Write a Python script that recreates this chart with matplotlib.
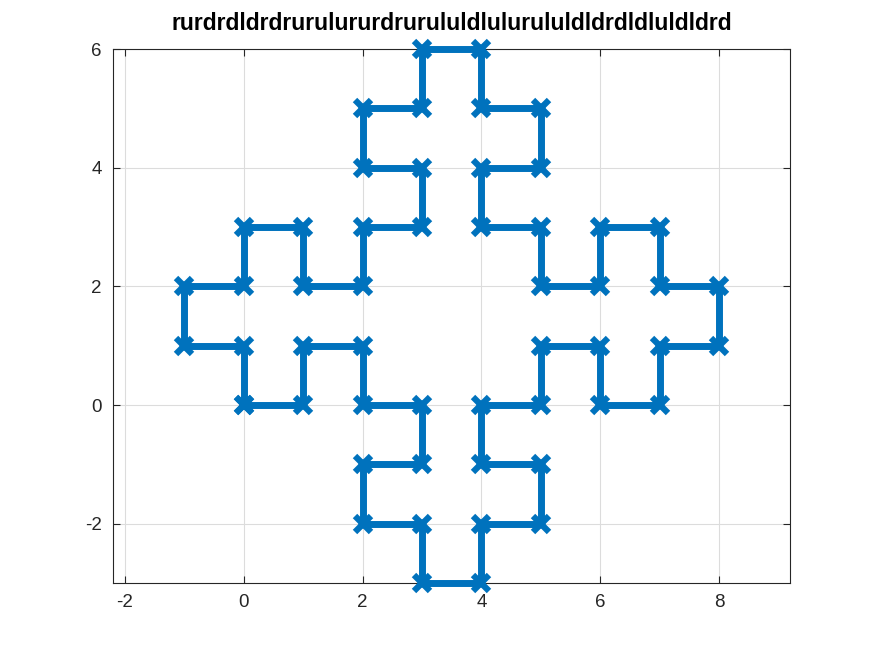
import matplotlib
matplotlib.use("Agg")
import matplotlib.pyplot as plt

title = "rurdrdldrdrurulururdrurululdlulurululdldrdldluldldrd"
x = [0, 1, 1, 2, 2, 3, 3, 2, 2, 3, 3, 4, 4, 5, 5, 4, 4, 5, 5, 6, 6, 7, 7, 8, 8, 7, 7, 6, 6, 5, 5, 4, 4, 5, 5, 4, 4, 3, 3, 2, 2, 3, 3, 2, 2, 1, 1, 0, 0, -1, -1, 0, 0]
y = [0, 0, 1, 1, 0, 0, -1, -1, -2, -2, -3, -3, -2, -2, -1, -1, 0, 0, 1, 1, 0, 0, 1, 1, 2, 2, 3, 3, 2, 2, 3, 3, 4, 4, 5, 5, 6, 6, 5, 5, 4, 4, 3, 3, 2, 2, 3, 3, 2, 2, 1, 1, 0]
xticks = [-2, 0, 2, 4, 6, 8]
yticks = [-2, 0, 2, 4, 6]

plt.rcParams['font.family'] = ['Liberation Sans', 'DejaVu Sans']
plt.rcParams['axes.unicode_minus'] = False
fig = plt.figure(figsize=(8.73, 6.55), dpi=100)
ax = fig.add_axes([0.1294, 0.110, 0.7755, 0.815])
ax.plot(x, y, color='#0072BD', lw=5, marker='x', ms=12, mew=4.5, clip_on=False, zorder=3)
ax.set_xlim(-2.2, 9.19)
ax.set_ylim(-3, 6)
ax.set_xticks(xticks)
ax.set_yticks(yticks)
ax.grid(True, color='#dcdcdc', lw=0.8)
ax.set_axisbelow(True)
ax.tick_params(direction='in', top=True, right=True, length=5, width=0.8, labelsize=13.5, colors='#262626', pad=8)
for s in ax.spines.values():
    s.set_color('#262626')
    s.set_linewidth(0.8)
ax.set_title(title, fontsize=16.5, fontweight='bold', pad=14)
fig.savefig('out.png', dpi=100)
